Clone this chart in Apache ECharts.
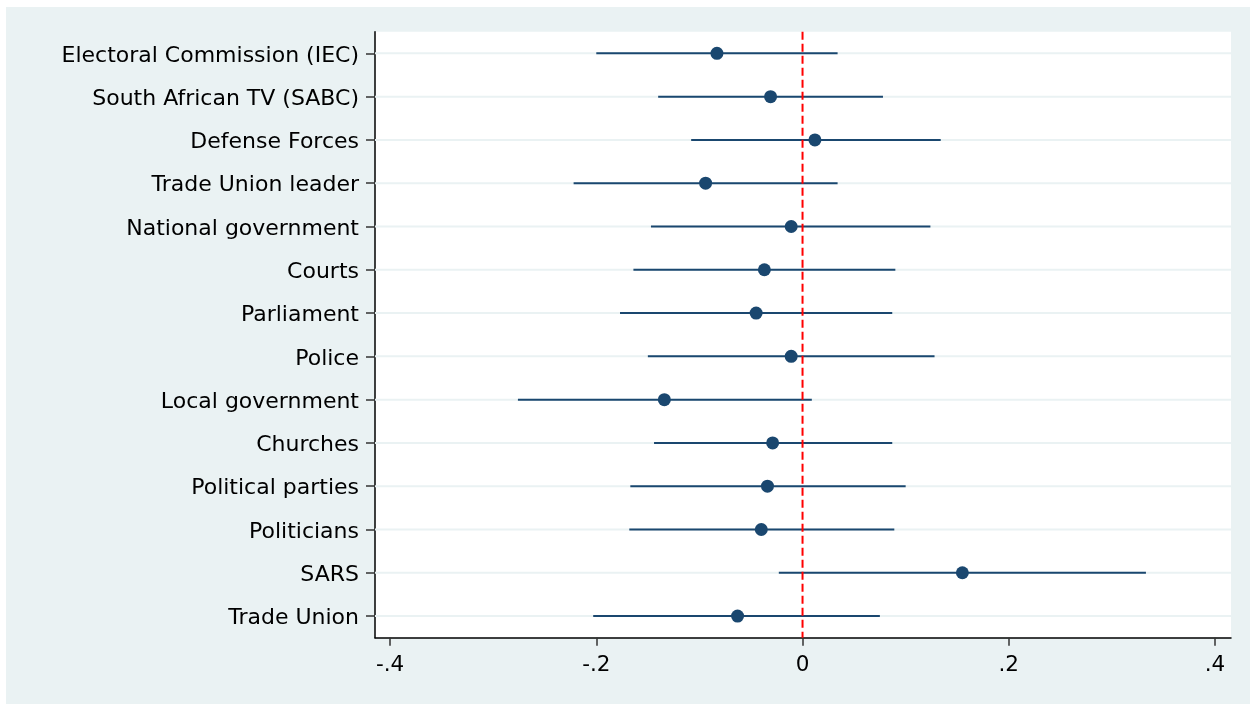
<!DOCTYPE html>
<html>
<head>
<meta charset="utf-8">
<script src="https://cdn.jsdelivr.net/npm/echarts@6/dist/echarts.min.js"></script>
<style>
  html, body { margin: 0; padding: 0; background: #ffffff; }
  #chart { position: absolute; left: 6px; top: 7px; width: 1244px; height: 697px; }
</style>
</head>
<body>
<div id="chart"></div>
<script>
// Institutions, listed top to bottom
const institutions = [
  'Electoral Commission (IEC)',
  'South African TV (SABC)',
  'Defense Forces',
  'Trade Union leader',
  'National government',
  'Courts',
  'Parliament',
  'Police',
  'Local government',
  'Churches',
  'Political parties',
  'Politicians',
  'SARS',
  'Trade Union'
];

// Point estimates
const estimates = [
  -0.083, -0.031, 0.012, -0.094, -0.011, -0.037, -0.045,
  -0.011, -0.134, -0.029, -0.034, -0.040, 0.155, -0.063
];

// Lower bounds of the confidence intervals
const lowerCI = [
  -0.200, -0.140, -0.108, -0.222, -0.147, -0.164, -0.177,
  -0.150, -0.276, -0.144, -0.167, -0.168, -0.023, -0.203
];

// Upper bounds of the confidence intervals
const upperCI = [
  0.034, 0.078, 0.134, 0.034, 0.124, 0.090, 0.087,
  0.128, 0.009, 0.087, 0.100, 0.089, 0.333, 0.075
];

// Tick values shown on the horizontal axis
const xTicks = [-0.4, -0.2, 0, 0.2, 0.4];

// Position of the reference line
const referenceValue = [0];

const NAVY = '#1a476f';
const FONT = '"DejaVu Sans", "Liberation Sans", Arial, sans-serif';

function fmtTick(v) {
  if (Math.abs(v) < 1e-9) return '0';
  const s = String(Math.round(v * 10) / 10);
  return s.replace('0.', '.');
}

const chart = echarts.init(document.getElementById('chart'));

chart.setOption({
  backgroundColor: '#eaf2f3',
  animation: false,
  grid: {
    left: 369,
    right: 19,
    top: 24.7,
    bottom: 66.3,
    show: true,
    backgroundColor: '#ffffff',
    borderWidth: 0
  },
  xAxis: {
    type: 'value',
    min: -0.4146,
    max: 0.4155,
    splitLine: { show: false },
    axisLine: { show: true, onZero: false, lineStyle: { color: '#000000', width: 1.5 } },
    axisTick: {
      show: true,
      length: 8,
      customValues: xTicks,
      lineStyle: { color: '#333333', width: 1.5 }
    },
    axisLabel: {
      customValues: xTicks,
      formatter: fmtTick,
      margin: 17,
      color: '#000000',
      fontFamily: FONT,
      fontSize: 21.5
    }
  },
  yAxis: {
    type: 'category',
    data: institutions,
    inverse: true,
    boundaryGap: true,
    splitLine: { show: false },
    axisLine: { show: true, onZero: false, lineStyle: { color: '#000000', width: 1.5 } },
    axisTick: {
      show: true,
      alignWithLabel: true,
      length: 9,
      lineStyle: { color: '#333333', width: 1.5 }
    },
    axisLabel: {
      margin: 16,
      color: '#000000',
      fontFamily: FONT,
      fontSize: 22,
      verticalAlign: 'top',
      lineHeight: 5,
      interval: 0
    }
  },
  series: [
    {
      // Row gridlines and confidence-interval whiskers
      type: 'custom',
      data: institutions.map((name, i) => [lowerCI[i], upperCI[i], i]),
      encode: { x: [0, 1], y: 2 },
      renderItem: function (params, api) {
        const lo = api.coord([api.value(0), api.value(2)]);
        const hi = api.coord([api.value(1), api.value(2)]);
        const cs = params.coordSys;
        return {
          type: 'group',
          children: [
            {
              type: 'line',
              shape: { x1: cs.x, y1: lo[1], x2: cs.x + cs.width, y2: lo[1] },
              style: { stroke: '#eaf2f3', lineWidth: 2 },
              z2: 1
            },
            {
              type: 'line',
              shape: { x1: lo[0], y1: lo[1], x2: hi[0], y2: hi[1] },
              style: { stroke: NAVY, lineWidth: 2 },
              z2: 3
            }
          ]
        };
      },
      z: 2
    },
    {
      // Dashed reference line at zero
      type: 'custom',
      data: referenceValue.map(v => [v, 0]),
      encode: { x: 0, y: 1 },
      renderItem: function (params, api) {
        const p = api.coord([api.value(0), 0]);
        const cs = params.coordSys;
        return {
          type: 'line',
          shape: { x1: p[0], y1: cs.y, x2: p[0], y2: cs.y + cs.height },
          style: { stroke: '#ff0000', fill: null, lineWidth: 2, lineDash: [8, 4] }
        };
      },
      silent: true,
      z: 3
    },
    {
      // Point estimates
      type: 'scatter',
      data: institutions.map((name, i) => [estimates[i], i]),
      symbol: 'circle',
      symbolSize: 13,
      itemStyle: { color: NAVY, opacity: 1 },
      z: 4
    }
  ]
});
</script>
</body>
</html>
